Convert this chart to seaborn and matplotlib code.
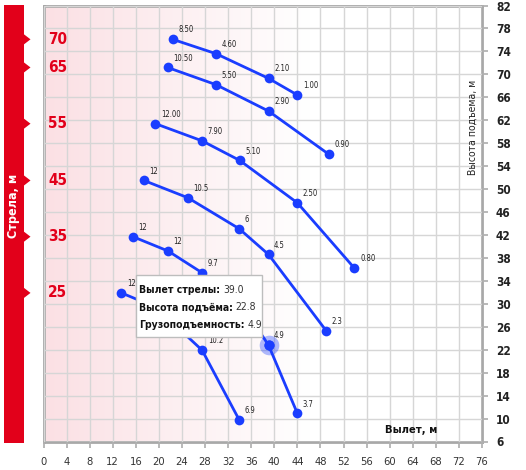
import numpy as np
import pandas as pd
import matplotlib
matplotlib.use('Agg')
import matplotlib.pyplot as plt
import seaborn as sns
from matplotlib.patches import Polygon, Rectangle

# boom lengths, m
booms = [70, 65, 55, 45, 35, 25]

# reach (x), lift height (y) and load labels for every boom
reach_70 = [22.4, 29.9, 39.0, 44.0]
height_70 = [76.1, 73.6, 69.3, 66.4]
load_70 = ['8.50', '4.60', '2.10', '1.00']

reach_65 = [21.5, 29.9, 39.0, 49.4]
height_65 = [71.2, 68.2, 63.6, 56.1]
load_65 = ['10.50', '5.50', '2.90', '0.90']

reach_55 = [19.4, 27.5, 34.0, 44.0, 53.9]
height_55 = [61.4, 58.4, 55.0, 47.6, 36.2]
load_55 = ['12.00', '7.90', '5.10', '2.50', '0.80']

reach_45 = [17.4, 25.0, 33.9, 39.0, 49.0]
height_45 = [51.5, 48.5, 43.1, 38.6, 25.3]
load_45 = ['12', '10.5', '6', '4.5', '2.3']

reach_35 = [15.5, 21.6, 27.5, 34.0, 39.0, 44.0]
height_35 = [41.7, 39.2, 35.4, 30.4, 22.8, 10.9]
load_35 = ['12', '12', '9.7', '7', '4.9', '3.7']

reach_25 = [13.5, 19.5, 27.5, 33.9]
height_25 = [31.9, 29.4, 21.9, 9.8]
load_25 = ['12', '11', '10.2', '6.9']

x_ticks = list(range(0, 77, 4))
y_ticks = list(range(6, 83, 4))

# hovered point (tooltip)
hover_reach, hover_height, hover_load = 39.0, 22.8, 4.9

series = {70: (reach_70, height_70, load_70), 65: (reach_65, height_65, load_65),
          55: (reach_55, height_55, load_55), 45: (reach_45, height_45, load_45),
          35: (reach_35, height_35, load_35), 25: (reach_25, height_25, load_25)}

rows = []
for b in booms:
    r, h, l = series[b]
    for i in range(len(r)):
        rows.append({'boom': b, 'reach': r[i], 'height': h[i], 'load': l[i]})
df = pd.DataFrame(rows)

sns.set_theme(style='white')
plt.rcParams['font.family'] = ['DejaVu Sans']
plt.rcParams['font.stretch'] = 'condensed'

BLUE = '#1a3dff'
RED = '#e2001a'

fig = plt.figure(figsize=(5.26, 4.70), dpi=100)
ax = fig.add_axes([43.5 / 526, 1 - 441.5 / 470, 438.5 / 526, 436 / 470])

# pink gradient background
grad = np.clip(1 - np.linspace(0, 76, 400) / 46, 0, 1)
pink = np.array([0.984, 0.878, 0.894])
img = np.ones((2, 400, 3)) - (1 - pink) * grad[None, :, None]
ax.imshow(img, extent=[0, 76, 6, 82], aspect='auto', zorder=0)

sns.lineplot(data=df, x='reach', y='height', units='boom', estimator=None, sort=False,
             color=BLUE, linewidth=2, marker='o', markersize=7, markeredgewidth=0,
             ax=ax, zorder=3, legend=False)

ax.set_xlim(0, 76)
ax.set_ylim(6, 82)

# tooltip box (axes fraction)
tip_x, tip_y, tip_w, tip_h = 0.211, 0.240, 0.287, 0.142

for _, row in df.iterrows():
    fx = row['reach'] / 76
    fy = (row['height'] - 6) / 76
    if tip_x < fx < tip_x + tip_w and tip_y < fy < tip_y + tip_h:
        continue  # label hidden under the tooltip
    ax.annotate(row['load'], (row['reach'], row['height']), xytext=(4, 3.5),
                textcoords='offset points', fontsize=5.5, color='#222222',
                ha='left', va='bottom', zorder=4)

# boom length labels
for b in booms:
    ax.text(2.5, series[b][1][0], str(b), color=RED, fontsize=11, fontweight='bold',
            ha='center', va='center', zorder=4)

# hover halo
ax.scatter([hover_reach], [hover_height], s=200, color=BLUE, alpha=0.35, linewidths=0, zorder=5)
ax.scatter([hover_reach], [hover_height], s=55, color=BLUE, linewidths=0, zorder=5)

ax.set_xticks(x_ticks)
ax.set_yticks(y_ticks)
ax.grid(True, color='#d6d6d6', linewidth=1)
ax.set_axisbelow(False)
for gl in ax.get_xgridlines() + ax.get_ygridlines():
    gl.set_zorder(1)
ax.yaxis.tick_right()
ax.tick_params(axis='x', bottom=True, length=4, color='#b0b0b0', pad=7, labelsize=8, labelcolor='#333333')
ax.tick_params(axis='y', right=True, left=False, length=4, color='#b0b0b0', pad=6, labelsize=8.5, labelcolor='#222222')
for lab in ax.get_yticklabels():
    lab.set_fontweight('bold')
for s in ax.spines.values():
    s.set_color('#a8a8a8')
    s.set_linewidth(2)
ax.set_xlabel('')
ax.set_ylabel('')

ax.text(0.979, 0.72, 'Высота подъема, м', transform=ax.transAxes, rotation=90,
        ha='center', va='center', fontsize=7.5, color='#222222', zorder=4)
ax.text(0.838, 0.026, 'Вылет, м', transform=ax.transAxes, ha='center', va='center',
        fontsize=8, fontweight='bold', color='#111111', zorder=4)

ax.add_patch(Rectangle((tip_x, tip_y), tip_w, tip_h, transform=ax.transAxes,
                       facecolor='white', edgecolor='#bdbdbd', linewidth=1, zorder=6))
tips = [('Вылет стрелы:', f'{hover_reach:.1f}'), ('Высота подъёма:', f'{hover_height:.1f}'),
        ('Грузоподъемность:', f'{hover_load:.1f}')]
for i, (k, v) in enumerate(tips):
    yy = 0.348 - i * 0.040
    t = ax.text(0.218, yy, k, transform=ax.transAxes, fontsize=7.5, fontweight='bold',
                color='#111111', ha='left', va='center', zorder=7)
    ax.annotate(v, xy=(1, 0.5), xycoords=t, xytext=(2, 0), textcoords='offset points',
                fontsize=7.5, color='#333333', ha='left', va='center', zorder=7)

# red boom band on the left with notches
fig.canvas.draw()
x0, x1, xt = 4 / 526, 24 / 526, 30.5 / 526
top, bot = 1 - 5 / 470, 1 - 443 / 470
pts = [(x0, top), (x1, top)]
notch_y = []
for b in booms:
    py = ax.transData.transform((0, series[b][1][0]))[1]
    notch_y.append(fig.transFigure.inverted().transform((0, py))[1])
hh = 5 / 470
for ny in notch_y:
    pts += [(x1, ny + hh), (xt, ny), (x1, ny - hh)]
pts += [(x1, bot), (x0, bot)]
fig.add_artist(Polygon(pts, closed=True, facecolor=RED, edgecolor='none', transform=fig.transFigure))
fig.text(14 / 526, 1 - 206 / 470, 'Стрела, м', rotation=90, ha='center', va='center',
         color='white', fontsize=9, fontweight='bold')

fig.savefig('out.png', dpi=100)
